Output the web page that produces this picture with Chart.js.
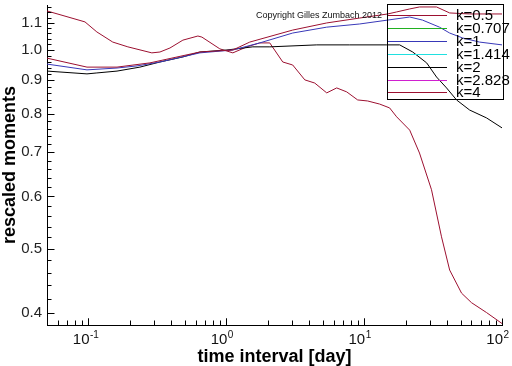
<!DOCTYPE html>
<html>
<head>
<meta charset="utf-8">
<script src="https://cdn.jsdelivr.net/npm/chart.js@4.4.1/dist/chart.umd.min.js"></script>
<style>
  html, body { margin: 0; padding: 0; background: #fff; }
</style>
</head>
<body>
<canvas id="moments" width="512" height="366"></canvas>
<script>
// series (time interval in days, rescaled moment)
const seriesLabels = ["k=0.5", "k=0.707", "k=1", "k=1.414", "k=2", "k=2.828", "k=4"];
const seriesColors = ["#9c1030", "#20b020", "#3838b8", "#20e0e0", "#000000", "#d020d0", "#9c1030"];

const k05X = [0.05, 0.0975, 0.161, 0.279, 0.643, 1.115, 1.48, 3.03, 5.35, 9.28, 14.8, 17.2, 21.4, 25.2, 33.5, 41.7, 58.2, 100];
const k05Y = [0.972, 0.942, 0.942, 0.956, 0.993, 1.0, 1.028, 1.072, 1.099, 1.118, 1.134, 1.142, 1.154, 1.162, 1.162, 1.138, 1.134, 1.134];

const k1X = [0.05, 0.0975, 0.161, 0.225, 0.33, 0.643, 1.115, 1.748, 3.03, 5.35, 9.28, 14.8, 21.4, 26.5, 35.2, 41.7, 51.7, 68.7, 100];
const k1Y = [0.952, 0.933, 0.939, 0.946, 0.959, 0.99, 1.0, 1.025, 1.061, 1.083, 1.095, 1.11, 1.122, 1.11, 1.083, 1.061, 1.043, 1.028, 1.018];

const k2X = [0.05, 0.0975, 0.115, 0.161, 0.236, 0.33, 0.484, 0.643, 1.01, 1.556, 2.07, 4.53, 7.85, 14.6, 18.1, 22.5, 28.4, 33.5, 39.6, 46.8, 58.2, 77.2, 100];
const k2Y = [0.929, 0.92, 0.923, 0.929, 0.942, 0.959, 0.976, 0.993, 1.0, 1.011, 1.011, 1.018, 1.018, 1.018, 1.018, 0.993, 0.956, 0.91, 0.876, 0.84, 0.811, 0.789, 0.762];

const k4X = [0.05, 0.0943, 0.115, 0.15, 0.193, 0.288, 0.33, 0.39, 0.484, 0.622, 0.665, 0.897, 1.115, 1.408, 1.748, 2.066, 2.567, 3.03, 3.71, 4.38, 5.35, 6.32, 7.47, 8.97, 10.6, 12.95, 15.3, 17.2, 21.4, 25.2, 30.8, 36.4, 41.7, 50.9, 60.1, 77.2, 100];
const k4Y = [1.146, 1.103, 1.065, 1.028, 1.011, 0.99, 0.993, 1.007, 1.035, 1.05, 1.046, 1.004, 0.99, 1.011, 1.025, 1.025, 0.959, 0.949, 0.901, 0.891, 0.861, 0.876, 0.864, 0.84, 0.837, 0.828, 0.817, 0.792, 0.756, 0.698, 0.614, 0.521, 0.464, 0.428, 0.414, 0.4, 0.385];

// k=0.707, 1.414 and 2.828 are in the legend but no curve shows for them
const emptyX = [];
const emptyY = [];

const xTickValues = [0.1, 1, 10, 100];
const xTickExponents = ["-1", "0", "1", "2"];
const yTickValues = [0.4, 0.5, 0.6, 0.7, 0.8, 0.9, 1.0, 1.1];

const seriesX = [k05X, emptyX, k1X, emptyX, k2X, emptyX, k4X];
const seriesY = [k05Y, emptyY, k1Y, emptyY, k2Y, emptyY, k4Y];

const FONT = "'Liberation Sans', Arial, Helvetica, sans-serif";

function points(xs, ys) {
  return xs.map((x, i) => ({ x: x, y: ys[i] }));
}

// inward ticks, superscript decade labels, legend box and copyright line
const decorations = {
  id: "decorations",
  afterDraw(chart) {
    const { ctx, chartArea, scales } = chart;
    const xs = scales.x;
    const ys = scales.y;
    const axisX = 47.5;
    const axisY = Math.round(chartArea.bottom) + 0.5;
    ctx.save();
    ctx.strokeStyle = "#000";
    ctx.lineWidth = 1;
    ctx.beginPath();
    // y ticks every 0.02, long ones at the labelled values
    for (let i = 19; i <= 58; i++) {
      const v = i * 0.02;
      const major = i % 5 === 0;
      const py = Math.round(ys.getPixelForValue(v)) + 0.5;
      if (py < chartArea.top || py > chartArea.bottom) continue;
      ctx.moveTo(axisX, py);
      ctx.lineTo(axisX + (major ? 7 : 4), py);
    }
    // x ticks at 1..9 times each decade
    [0.01, 0.1, 1, 10].forEach((d) => {
      for (let m = 1; m <= 10; m++) {
        const v = m * d;
        if (v < 0.05 || v > 100) continue;
        const px = Math.round(xs.getPixelForValue(v)) + 0.5;
        const major = m === 1 || m === 10;
        ctx.moveTo(px, axisY);
        ctx.lineTo(px, axisY - (major ? 7 : 5));
      }
    });
    ctx.stroke();

    // decade labels: 10 with a raised exponent
    ctx.fillStyle = "#111";
    ctx.textBaseline = "alphabetic";
    xTickValues.forEach((v, i) => {
      const px = xs.getPixelForValue(v);
      ctx.font = "15px " + FONT;
      ctx.textAlign = "right";
      ctx.fillText("10", px + 1, 344);
      ctx.font = "10px " + FONT;
      ctx.textAlign = "left";
      ctx.fillText(xTickExponents[i], px + 1.5, 338);
    });

    // copyright line
    ctx.font = "9px " + FONT;
    ctx.textAlign = "left";
    ctx.textBaseline = "middle";
    ctx.fillText("Copyright Gilles Zumbach 2012", 256, 16);

    // legend box, transparent, curves show through it
    ctx.strokeRect(387.5, 4.5, 116, 95);
    ctx.font = "15px " + FONT;
    chart.data.datasets.forEach((ds, i) => {
      const ly = Math.round(15 + i * 12.9) + 0.5;
      ctx.strokeStyle = ds.borderColor;
      ctx.beginPath();
      ctx.moveTo(388, ly);
      ctx.lineTo(447, ly);
      ctx.stroke();
      ctx.fillStyle = "#000";
      ctx.fillText(ds.label, 456, ly);
    });
    ctx.restore();
  }
};

new Chart(document.getElementById("moments"), {
  type: "line",
  data: {
    datasets: seriesLabels.map((label, i) => ({
      label: label,
      data: points(seriesX[i], seriesY[i]),
      borderColor: seriesColors[i],
      backgroundColor: seriesColors[i],
      borderWidth: 1,
      pointRadius: 0,
      tension: 0,
      fill: false
    }))
  },
  options: {
    responsive: false,
    animation: false,
    layout: { padding: { top: 5, right: 10, left: 0, bottom: 0 } },
    plugins: {
      legend: { display: false },
      tooltip: { enabled: false }
    },
    scales: {
      x: {
        type: "logarithmic",
        min: 0.05,
        max: 100,
        grid: { display: true, drawOnChartArea: false, drawTicks: false },
        border: { display: true, color: "#000", width: 1 },
        ticks: { display: false },
        title: {
          display: true,
          text: "time interval [day]",
          color: "#000",
          font: { family: FONT, size: 18, weight: "bold", lineHeight: 1 },
          padding: { top: 0, bottom: 0 }
        },
        afterFit(scale) {
          scale.height = 41;
          scale.paddingLeft = 0;
          scale.paddingRight = 0;
        }
      },
      y: {
        type: "logarithmic",
        min: 0.383,
        max: 1.17,
        grid: { display: true, drawOnChartArea: false, drawTicks: false },
        border: { display: true, color: "#000", width: 1 },
        afterBuildTicks(scale) {
          scale.ticks = yTickValues.map((v) => ({ value: v }));
        },
        ticks: {
          color: "#222",
          padding: 5,
          font: { family: FONT, size: 15 },
          callback: (v) => Number(v).toFixed(1)
        },
        title: {
          display: true,
          text: "rescaled moments",
          color: "#000",
          font: { family: FONT, size: 18, weight: "bold", lineHeight: 1 },
          padding: { top: 1.5, bottom: 0 }
        },
        afterFit(scale) {
          scale.width = 47;
          scale.paddingTop = 0;
          scale.paddingBottom = 0;
        }
      }
    }
  },
  plugins: [decorations]
});
</script>
</body>
</html>
